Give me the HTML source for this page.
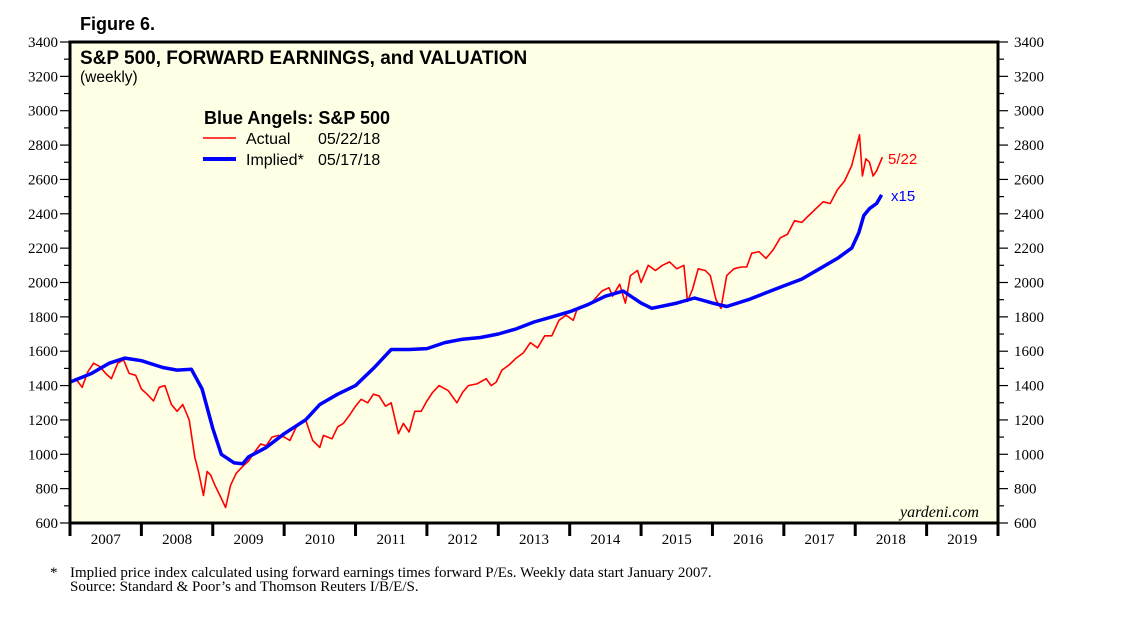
<!DOCTYPE html>
<html><head><meta charset="utf-8"><style>
html,body{margin:0;padding:0;background:#fff;width:1138px;height:621px;overflow:hidden}
svg{display:block}
.tk{font-family:"Liberation Serif",serif;font-size:15px;fill:#000}
</style></head><body>
<svg id="chart" width="1138" height="621" xmlns="http://www.w3.org/2000/svg">
<text x="80" y="30" font-family="Liberation Sans,sans-serif" font-weight="bold" font-size="18">Figure 6.</text>
<rect x="70" y="42" width="928" height="481" fill="#ffffe6"/>
<g id="axes"></g>
<g id="series"></g>
<rect x="70" y="42" width="928" height="481" fill="none" stroke="#000" stroke-width="3"/>
<text x="80" y="64" font-family="Liberation Sans,sans-serif" font-weight="bold" font-size="19">S&amp;P 500, FORWARD EARNINGS, and VALUATION</text>
<text x="80" y="82" font-family="Liberation Sans,sans-serif" font-size="15.5">(weekly)</text>
<text x="204" y="124" font-family="Liberation Sans,sans-serif" font-weight="bold" font-size="18">Blue Angels: S&amp;P 500</text>
<line x1="203" y1="138" x2="236" y2="138" stroke="#f00" stroke-width="1.5"/>
<text x="246" y="144" font-family="Liberation Sans,sans-serif" font-size="16">Actual</text>
<text x="318" y="144" font-family="Liberation Sans,sans-serif" font-size="16">05/22/18</text>
<line x1="203" y1="159" x2="236" y2="159" stroke="#00f" stroke-width="4"/>
<text x="246" y="165" font-family="Liberation Sans,sans-serif" font-size="16">Implied*</text>
<text x="318" y="165" font-family="Liberation Sans,sans-serif" font-size="16">05/17/18</text>
<text x="888" y="164" fill="#f00" font-family="Liberation Sans,sans-serif" font-size="15">5/22</text>
<text x="891" y="201" fill="#00f" font-family="Liberation Sans,sans-serif" font-size="15">x15</text>
<text x="900" y="517" font-family="Liberation Serif,serif" font-style="italic" font-size="16">yardeni.com</text>
<text x="50" y="577" class="tk" font-size="14">*</text>
<text x="70" y="577" class="tk" font-size="14">Implied price index calculated using forward earnings times forward P/Es. Weekly data start January 2007.</text>
<text x="70" y="591" class="tk" font-size="14">Source: Standard &amp; Poor’s and Thomson Reuters I/B/E/S.</text>
</svg>
<script>
const yTicks=[600,800,1000,1200,1400,1600,1800,2000,2200,2400,2600,2800,3000,3200,3400];
const years=[2007,2008,2009,2010,2011,2012,2013,2014,2015,2016,2017,2018,2019];
const actualDates=[2007.0,2007.08,2007.17,2007.25,2007.33,2007.42,2007.5,2007.58,2007.67,2007.75,2007.83,2007.92,
2008.0,2008.08,2008.17,2008.25,2008.33,2008.42,2008.5,2008.58,2008.67,2008.75,2008.8,2008.87,2008.92,2008.97,
2009.03,2009.1,2009.18,2009.25,2009.33,2009.42,2009.5,2009.58,2009.67,2009.75,2009.83,2009.92,
2010.0,2010.08,2010.17,2010.3,2010.4,2010.5,2010.55,2010.67,2010.75,2010.83,2010.92,
2011.0,2011.08,2011.17,2011.25,2011.33,2011.42,2011.5,2011.6,2011.67,2011.75,2011.83,2011.92,
2012.0,2012.08,2012.17,2012.3,2012.42,2012.5,2012.58,2012.7,2012.83,2012.9,2012.97,
2013.05,2013.15,2013.25,2013.35,2013.45,2013.55,2013.65,2013.75,2013.85,2013.95,
2014.05,2014.1,2014.2,2014.3,2014.45,2014.55,2014.6,2014.7,2014.78,2014.85,2014.95,
2015.0,2015.1,2015.2,2015.3,2015.4,2015.5,2015.6,2015.65,2015.72,2015.8,2015.9,2015.97,
2016.05,2016.12,2016.2,2016.3,2016.4,2016.48,2016.55,2016.65,2016.75,2016.85,2016.95,
2017.05,2017.15,2017.25,2017.35,2017.45,2017.55,2017.65,2017.75,2017.85,2017.95,
2018.06,2018.1,2018.15,2018.2,2018.25,2018.3,2018.35,2018.38];
const actualValues=[1420,1440,1390,1480,1530,1510,1470,1440,1530,1550,1470,1460,
1380,1350,1310,1390,1400,1290,1250,1290,1200,980,900,760,900,880,
820,760,690,820,890,930,960,1010,1060,1050,1100,1110,
1100,1080,1160,1200,1080,1040,1110,1090,1160,1180,1230,
1280,1320,1300,1350,1340,1280,1300,1120,1180,1130,1250,1250,
1310,1360,1400,1370,1300,1360,1400,1410,1440,1400,1420,
1490,1520,1560,1590,1650,1620,1690,1690,1780,1810,
1780,1840,1860,1880,1950,1970,1920,1990,1880,2040,2070,
2000,2100,2070,2100,2120,2080,2100,1890,1960,2080,2070,2040,
1900,1850,2040,2080,2090,2090,2170,2180,2140,2190,2260,
2280,2360,2350,2390,2430,2470,2460,2540,2590,2680,
2860,2620,2720,2700,2620,2650,2700,2730];
const impliedDates=[2007.0,2007.3,2007.55,2007.77,2008.0,2008.3,2008.5,2008.7,2008.85,2009.0,2009.12,2009.3,2009.42,2009.5,2009.75,2010.0,2010.3,2010.5,2010.75,2011.0,2011.25,2011.5,2011.75,2012.0,2012.25,2012.5,2012.75,2013.0,2013.25,2013.5,2013.75,2014.0,2014.25,2014.5,2014.75,2015.0,2015.15,2015.5,2015.75,2016.0,2016.2,2016.5,2016.75,2017.0,2017.25,2017.5,2017.75,2017.95,2018.05,2018.12,2018.2,2018.3,2018.37];
const impliedValues=[1420,1470,1530,1560,1545,1505,1490,1495,1380,1150,1000,950,945,985,1040,1120,1200,1290,1350,1400,1500,1610,1610,1615,1650,1670,1680,1700,1730,1770,1800,1830,1870,1920,1950,1880,1850,1880,1910,1880,1860,1900,1940,1980,2020,2080,2140,2200,2290,2390,2430,2460,2510];
const NS='http://www.w3.org/2000/svg';
const X0=70,X1=998,Y0=523,Y1=42;
function xs(t){return X0+(t-2007)/13*(X1-X0);}
function ys(v){return Y0-(v-600)/2800*(Y0-Y1);}
function mk(tag,attrs,parent){const e=document.createElementNS(NS,tag);for(const k in attrs)e.setAttribute(k,attrs[k]);parent.appendChild(e);return e;}
const ax=document.getElementById('axes');
for(let v=600;v<=3400;v+=100){const y=ys(v);const major=v%200===0;
 let l=mk('line',{x1:X0-(major?10:6),x2:X0,y1:y,y2:y,stroke:'#000','stroke-width':1.2},ax);
 
 
 let r=mk('line',{x1:X1,x2:X1+(major?10:6),y1:y,y2:y,stroke:'#000','stroke-width':1.2},ax);
 
 }
yTicks.forEach(v=>{const y=ys(v)+5;
 let a=mk('text',{x:X0-12,y:y,'text-anchor':'end',class:'tk'},ax);a.textContent=v;
 
 
 let b=mk('text',{x:X1+16,y:y,class:'tk'},ax);b.textContent=v;
 
 });
for(let yr=2007;yr<=2020;yr++){let t=mk('line',{x1:xs(yr),x2:xs(yr),y1:Y0,y2:Y0+13,stroke:'#000','stroke-width':3},ax);
 
 }
years.forEach(yr=>{let t=mk('text',{x:xs(yr+0.5),y:Y0+21,'text-anchor':'middle',class:'tk'},ax);t.textContent=yr;
 
 });
const se=document.getElementById('series');
function path(d,v){return d.map((t,i)=>(i?'L':'M')+xs(t).toFixed(1)+','+ys(v[i]).toFixed(1)).join('');}
let pa=mk('path',{d:path(actualDates,actualValues),fill:'none',stroke:'#f00','stroke-width':1.6,'stroke-linejoin':'round'},se);


let pi=mk('path',{d:path(impliedDates,impliedValues),fill:'none',stroke:'#00f','stroke-width':3.5,'stroke-linejoin':'round'},se);


</script>
</body></html>
